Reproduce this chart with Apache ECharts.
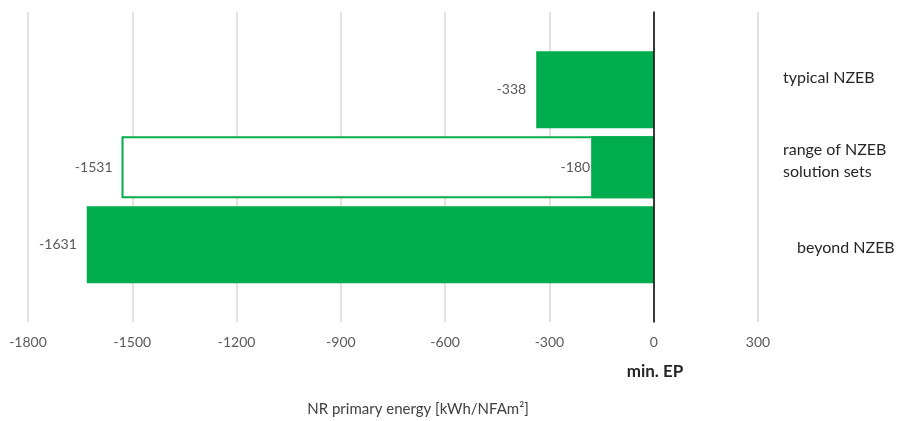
<!DOCTYPE html>
<html>
<head>
<meta charset="utf-8">
<script src="https://cdn.jsdelivr.net/npm/echarts@6/dist/echarts.min.js"></script>
<style>html,body{margin:0;padding:0;background:#fff}#c{width:897px;height:421px}</style>
</head>
<body>
<div id="c"></div>
<script>
const categories = ['typical NZEB', 'range of NZEB\nsolution sets', 'beyond NZEB'];
const minEP = [-338, -180, -1631];
const rangeLow = [null, -1531, null];
const xMin = -1800, xMax = 300, xStep = 300;
const axisName = 'NR primary energy [kWh/NFAm\u00B2]';
const zeroName = 'min. EP';

const FONT = 'Lato';
const green = '#00AD4E';
const isRange = rangeLow.map(v => v !== null);

const chart = echarts.init(document.getElementById('c'), null, {renderer: 'canvas'});
const lbl = (dist) => ({show: true, position: 'left', distance: dist, color: '#595959', fontSize: 14, fontFamily: FONT});

chart.setOption({
  animation: false,
  grid: [
    {left: 28, right: 139, top: 12, bottom: 99},
    {left: 28, right: 139, top: 51, bottom: 137.5}
  ],
  xAxis: [
    {gridIndex: 0, type: 'value', min: xMin, max: xMax, interval: xStep,
     axisLine: {show: false}, axisTick: {show: false},
     axisLabel: {color: '#595959', fontSize: 14, fontFamily: FONT, margin: 13, formatter: v => String(v)},
     splitLine: {lineStyle: {color: '#d9d9d9', width: 1.5}}},
    {gridIndex: 1, type: 'value', min: xMin, max: xMax, show: false, splitLine: {show: false}}
  ],
  yAxis: [
    {gridIndex: 0, type: 'category', data: [''], z: 5,
     axisLine: {show: true, onZero: true, lineStyle: {color: '#000', width: 1.5}},
     axisTick: {show: false}, axisLabel: {show: false}, splitLine: {show: false}},
    {gridIndex: 1, type: 'category', data: categories, inverse: true, show: false},
    {gridIndex: 1, type: 'category', data: categories, inverse: true, show: false}
  ],
  series: [
    {type: 'bar', xAxisIndex: 1, yAxisIndex: 1, barWidth: 77,
     data: minEP.map((v, i) => isRange[i] ? null : v),
     itemStyle: {color: green}, label: lbl(10)},
    {type: 'bar', xAxisIndex: 1, yAxisIndex: 2, barWidth: 62, barGap: '-100%',
     data: rangeLow,
     itemStyle: {color: '#fff', borderColor: green, borderWidth: 2}, label: lbl(9)},
    {type: 'bar', xAxisIndex: 1, yAxisIndex: 2, barWidth: 62, barGap: '-100%',
     data: minEP.map((v, i) => isRange[i] ? v : null),
     itemStyle: {color: green}, label: lbl(1)}
  ],
  graphic: [
    {type: 'text', x: 783, y: 78, style: {text: categories[0], fill: '#262626', font: '16px ' + FONT, verticalAlign: 'middle'}},
    {type: 'text', x: 783, y: 161, style: {text: categories[1], fill: '#262626', font: '16px ' + FONT, verticalAlign: 'middle', lineHeight: 22}},
    {type: 'text', x: 797, y: 248, style: {text: categories[2], fill: '#262626', font: '16px ' + FONT, verticalAlign: 'middle'}},
    {type: 'text', x: 655, y: 372, style: {text: zeroName, fill: '#262626', font: 'bold 17px ' + FONT, align: 'center', verticalAlign: 'middle'}},
    {type: 'text', x: 418, y: 409, style: {text: axisName, fill: '#404040', font: '15px ' + FONT, align: 'center', verticalAlign: 'middle'}}
  ]
});
</script>
</body>
</html>
